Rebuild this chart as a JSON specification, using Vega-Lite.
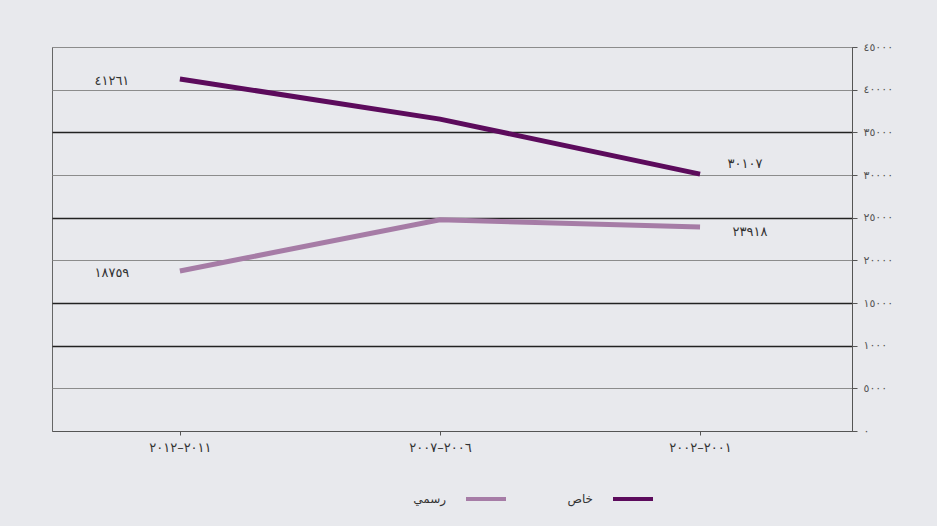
{
  "$schema": "https://vega.github.io/schema/vega-lite/v6.json",
  "width": 800,
  "height": 384,
  "padding": {"left": 52, "top": 41, "right": 47, "bottom": 24},
  "background": "#e8e9ed",
  "config": {
    "locale": {"number": {"decimal": ".", "thousands": ",", "grouping": [3], "currency": ["", ""], "numerals": ["٠","١","٢","٣","٤","٥","٦","٧","٨","٩"]}},
    "view": {"stroke": "#666666", "strokeWidth": 1},
    "font": "DejaVu Sans"
  },
  "data": {"values": [
    {"period": "٢٠١١–٢٠١٢", "type": "خاص", "value": 41261},
    {"period": "٢٠٠٦–٢٠٠٧", "type": "خاص", "value": 36550},
    {"period": "٢٠٠١–٢٠٠٢", "type": "خاص", "value": 30107},
    {"period": "٢٠١١–٢٠١٢", "type": "رسمي", "value": 18759},
    {"period": "٢٠٠٦–٢٠٠٧", "type": "رسمي", "value": 24750},
    {"period": "٢٠٠١–٢٠٠٢", "type": "رسمي", "value": 23918}
  ]},
  "encoding": {
    "x": {
      "field": "period", "type": "ordinal",
      "sort": ["٢٠١١–٢٠١٢", "٢٠٠٦–٢٠٠٧", "٢٠٠١–٢٠٠٢"],
      "scale": {"type": "point", "padding": 0.538, "align": 0.457},
      "axis": {"title": null, "labelAngle": 0, "labelFontSize": 13, "labelColor": "#333333", "labelPadding": 6, "domainColor": "#555555", "tickColor": "#555555", "tickSize": 4, "grid": false}
    },
    "y": {
      "field": "value", "type": "quantitative",
      "scale": {"domain": [0, 45000], "nice": false},
      "axis": {
        "orient": "right", "title": null,
        "values": [0, 5000, 10000, 15000, 20000, 25000, 30000, 35000, 40000, 45000],
        "format": "d",
        "labelExpr": "datum.value == 10000 ? '١٠٠٠' : datum.label",
        "labelFontSize": 11, "labelColor": "#555555", "labelPadding": 6,
        "domainColor": "#555555", "tickColor": "#555555", "tickSize": 5,
        "grid": true,
        "gridColor": {"condition": {"test": "datum.value == 35000 || datum.value == 25000 || datum.value == 15000 || datum.value == 10000", "value": "#222222"}, "value": "#8c8c8c"},
        "gridWidth": {"condition": {"test": "datum.value == 35000 || datum.value == 25000 || datum.value == 15000 || datum.value == 10000", "value": 1.4}, "value": 1.2}
      }
    }
  },
  "layer": [
    {
      "mark": {"type": "line", "strokeWidth": 5},
      "encoding": {
        "color": {
          "field": "type", "type": "nominal",
          "scale": {"domain": ["خاص", "رسمي"], "range": ["#5c0b5c", "#a67ca6"]},
          "legend": {
            "title": null, "orient": "none", "direction": "horizontal",
            "legendX": 412, "legendY": 430,
            "values": ["رسمي", "خاص"],
            "symbolType": "stroke", "symbolSize": 1600, "symbolStrokeWidth": 4,
            "labelAlign": "right", "labelOffset": -62,
            "labelFontSize": 12, "labelColor": "#333333",
            "columnPadding": 53
          }
        }
      }
    },
    {
      "transform": [{"filter": "datum.period == '٢٠١١–٢٠١٢'"}],
      "mark": {"type": "text", "dx": -68, "dy": 2, "fontSize": 13, "color": "#333333"},
      "encoding": {"text": {"field": "value", "type": "quantitative", "format": "d"}}
    },
    {
      "transform": [{"filter": "datum.period == '٢٠٠١–٢٠٠٢' && datum.type == 'خاص'"}],
      "mark": {"type": "text", "dx": 45, "dy": -10, "fontSize": 13, "color": "#333333"},
      "encoding": {"text": {"field": "value", "type": "quantitative", "format": "d"}}
    },
    {
      "transform": [{"filter": "datum.period == '٢٠٠١–٢٠٠٢' && datum.type == 'رسمي'"}],
      "mark": {"type": "text", "dx": 50, "dy": 5, "fontSize": 13, "color": "#333333"},
      "encoding": {"text": {"field": "value", "type": "quantitative", "format": "d"}}
    }
  ]
}
